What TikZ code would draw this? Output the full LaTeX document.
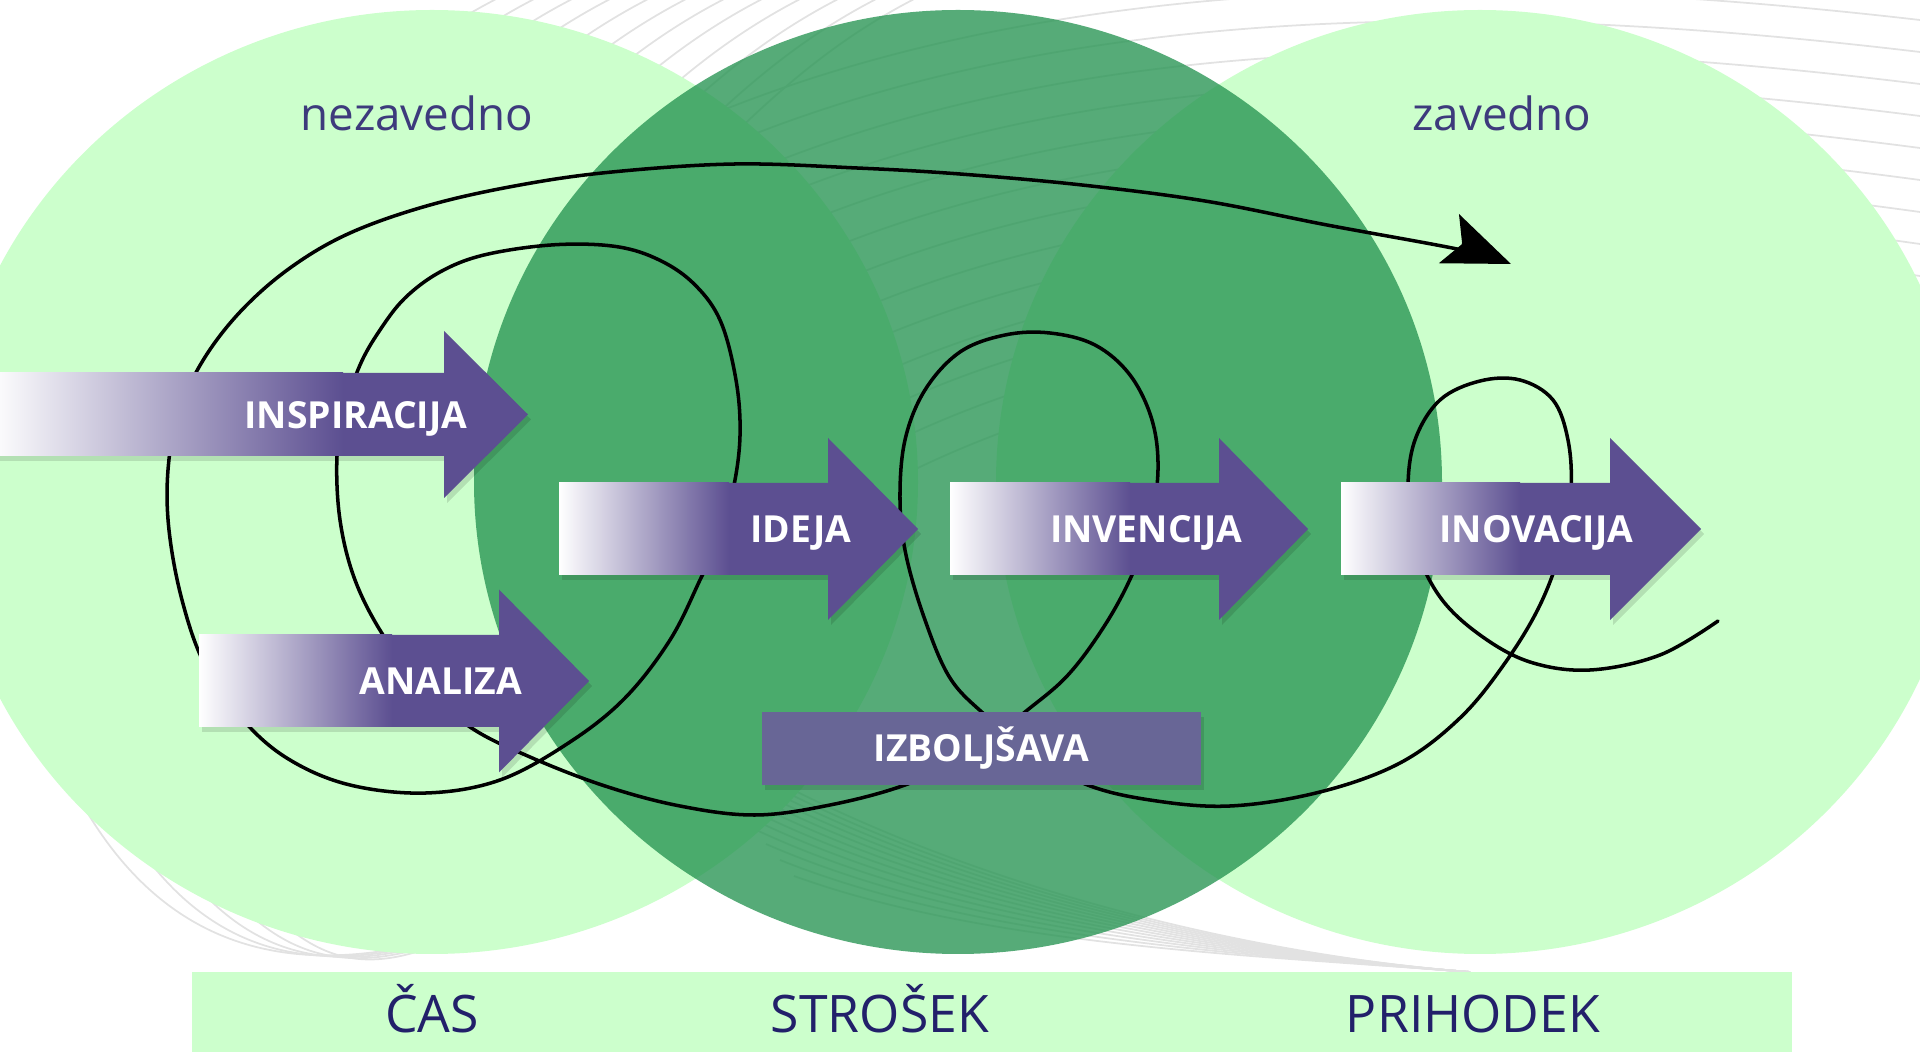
\documentclass[tikz,border=0pt]{standalone}
\usepackage{fontspec}
\setmainfont{Open Sans}
\usetikzlibrary{arrows.meta}

\definecolor{palegreen}{HTML}{CCFFCC}
\definecolor{midgreen}{RGB}{38,148,82}
\definecolor{procpurple}{HTML}{5C4F91}
\definecolor{fixpurple}{HTML}{686696}
\definecolor{zonetext}{HTML}{3D3A7C}
\definecolor{bartext}{HTML}{22206A}
\definecolor{bggrey}{HTML}{E2E2E2}

\tikzstyle{zone} = [fill=palegreen]
\tikzstyle{midzone} = [fill=midgreen, fill opacity=0.78]
\tikzstyle{bgline} = [draw=bggrey, line width=0.5pt]
\tikzstyle{coil} = [draw=black, line width=1pt, line cap=round, line join=round]
\tikzstyle{procshadow} = [fill=black, fill opacity=0.12]
\tikzstyle{arrowlabel} = [text=white, inner sep=0pt,
    font=\fontsize{10.6pt}{12pt}\selectfont\bfseries]
\tikzstyle{fixbox} = [fill=fixpurple, text=white, inner sep=0pt,
    minimum width=4.39cm, minimum height=0.73cm,
    font=\fontsize{10.6pt}{12pt}\selectfont\bfseries]
\tikzstyle{zonelabel} = [text=zonetext, inner sep=0pt,
    font=\fontsize{13pt}{15pt}\selectfont]
\tikzstyle{barlabel} = [text=bartext, inner sep=0pt,
    font=\fontsize{14.7pt}{17pt}\selectfont]

% block arrow: name, left, head base, tip, mid y, half body, half head, shade end, text
\newcommand{\procarrow}[9]{
    \fill[procshadow, shift={(3,5)}] (#2,#5-#6) -- (#3,#5-#6) -- (#3,#5-#7) -- (#4,#5)
        -- (#3,#5+#7) -- (#3,#5+#6) -- (#2,#5+#6) -- cycle;
    \fill[procpurple] (#2,#5-#6) -- (#3,#5-#6) -- (#3,#5-#7) -- (#4,#5)
        -- (#3,#5+#7) -- (#3,#5+#6) -- (#2,#5+#6) -- cycle;
    \shade[left color=white, right color=procpurple] (#2,#5-#6) rectangle (#8,#5+#6);
    \node[arrowlabel, anchor=base east] (#1) at (#3+24,#5+14) {#9};
}

\begin{document}
\begin{tikzpicture}[x=0.01cm, y=-0.01cm]
\useasboundingbox (0,0) rectangle (1920,1052);
\clip (0,0) rectangle (1920,1052);

% faint background lines
\foreach \i in {0,...,12}{
    \draw[bgline] (300+20*\i,400+30*\i) .. controls (700+20*\i,-50+30*\i)
        and (1400,-40+30*\i) .. (1920,20+32*\i);
}
\foreach \i in {0,...,11}{
    \draw[bgline] (300+38*\i,150) .. controls (390+38*\i,60)
        and (460+38*\i,10) .. (560+38*\i,-30);
}
\foreach \i in {0,...,11}{
    \draw[bgline] (640+14*\i,700+16*\i) .. controls (900+8*\i,880+6*\i)
        and (1250,955) .. (1470,972);
}
\foreach \i in {0,...,4}{
    \draw[bgline] (60+45*\i,760+30*\i) .. controls (150+40*\i,960)
        and (300+15*\i,985) .. (470,930);
}

% three zones
\fill[zone] (432,482) ellipse [x radius=486, y radius=472];
\fill[zone] (1480,482) ellipse [x radius=484, y radius=472];
\fill[midzone] (958,482) ellipse [x radius=484, y radius=472];

\fill[palegreen] (192,972) rectangle (1792,1052);

\node[zonelabel, anchor=base] (nezavedno) at (417,131) {nezavedno};
\node[zonelabel, anchor=base] (zavedno) at (1502,131) {zavedno};

% the coil
\draw[coil, -{Stealth[length=19pt, width=15pt, inset=4pt]}] plot[smooth, tension=0.6] coordinates {
    (1718,621) (1660,655) (1590,670) (1530,662) (1480,635) (1440,597) (1415,545)
    (1408,490) (1415,440) (1440,400) (1480,381) (1520,380) (1553,400) (1568,440)
    (1571,490) (1562,545) (1540,605) (1505,663) (1460,718) (1400,763) (1320,792)
    (1230,806) (1150,800) (1085,784) (1030,752) (985,715) (950,678) (925,620)
    (906,555) (900,500) (905,440) (925,390) (960,352) (1005,335) (1050,333)
    (1095,345) (1130,375) (1152,420) (1158,470) (1150,525) (1132,575) (1105,625)
    (1068,675) (1025,712) (970,755) (905,785) (830,805) (755,815) (680,806)
    (605,786) (530,757) (470,727) (420,683) (383,635) (355,580) (340,520)
    (337,456) (345,410) (360,365) (380,330) (405,298) (440,272) (484,255)
    (551,245) (612,246) (655,258) (692,282) (720,320) (736,380) (740,436)
    (733,490) (718,540) (700,580) (670,640) (625,698) (570,742) (500,780)
    (426,793) (350,785) (290,760) (245,722) (205,665) (182,600) (169,530)
    (168,470) (178,415) (202,362) (240,312) (290,268) (350,233) (430,205)
    (520,185) (612,172) (735,164) (857,168) (960,174) (1082,185) (1205,201)
    (1327,225) (1462,250) (1511,264)
};

% process arrows
\procarrow{inspiracija}{-10}{444}{528}{414.5}{41.5}{83.5}{343}{INSPIRACIJA}
\procarrow{ideja}{559}{828}{918}{529}{46}{91}{729}{IDEJA}
\procarrow{invencija}{950}{1219}{1308}{529}{46}{91}{1130}{INVENCIJA}
\procarrow{inovacija}{1341}{1610}{1701}{529}{46}{91}{1520}{INOVACIJA}
\procarrow{analiza}{199}{499}{589}{681}{46}{91.5}{392}{ANALIZA}

\fill[procshadow] (765,717) rectangle (1204,790);
\node[fixbox] (izboljsava) at (981.5,748.5) {IZBOLJŠAVA};

% bottom bar labels
\node[barlabel, anchor=base] (cas) at (432,1033) {ČAS};
\node[barlabel, anchor=base] (strosek) at (880,1033) {STROŠEK};
\node[barlabel, anchor=base] (prihodek) at (1473,1033) {PRIHODEK};
\end{tikzpicture}
\end{document}
